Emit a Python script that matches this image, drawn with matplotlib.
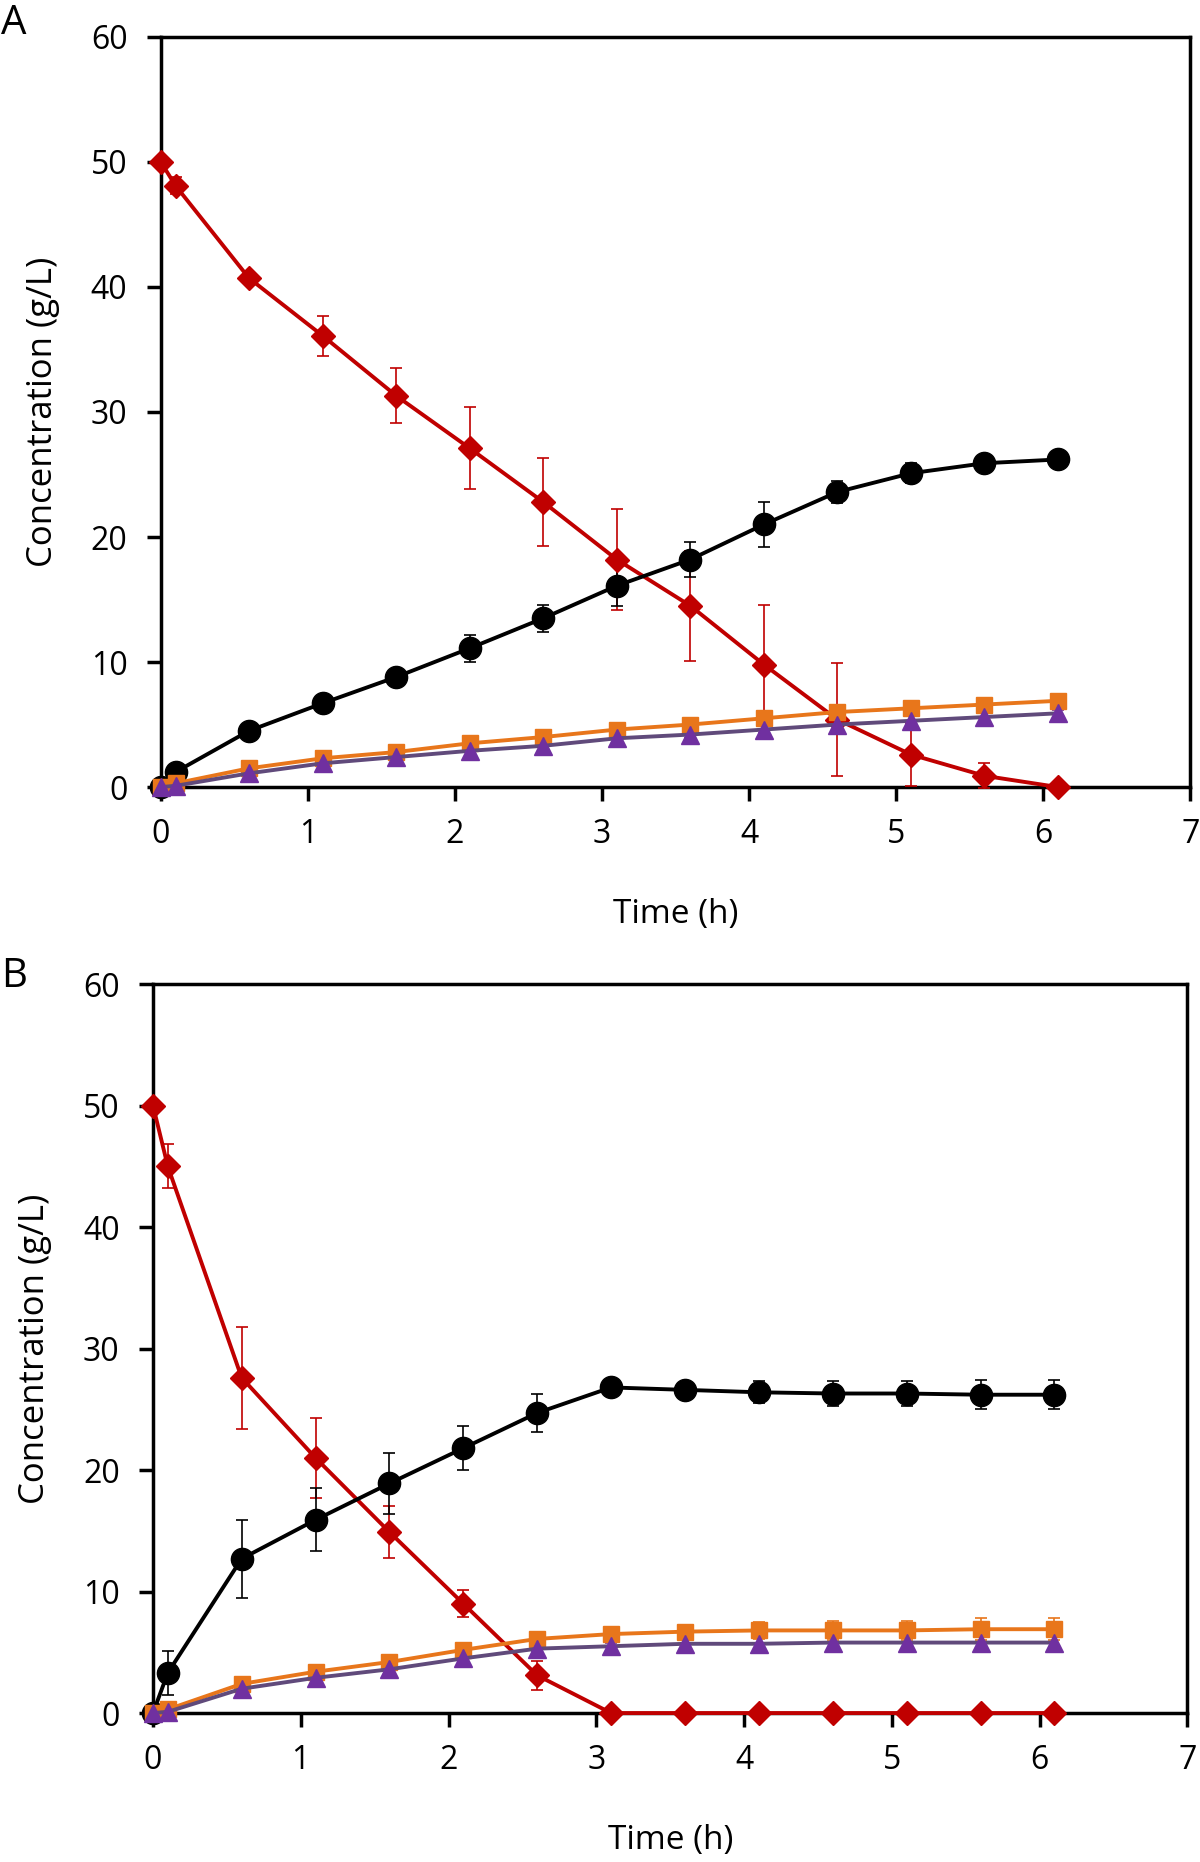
import matplotlib
matplotlib.use("Agg")
import matplotlib.pyplot as plt

plt.rcParams['font.family'] = ['Open Sans', 'DejaVu Sans']

# sampling times (h)
time_h = [0, 0.1, 0.6, 1.1, 1.6, 2.1, 2.6, 3.1, 3.6, 4.1, 4.6, 5.1, 5.6, 6.1]

# panel A
a_red = [50, 48.1, 40.7, 36.1, 31.3, 27.1, 22.8, 18.2, 14.5, 9.8, 5.4, 2.6, 0.9, 0]
a_red_err = [0, 0.7, 0.3, 1.6, 2.2, 3.3, 3.5, 4.0, 4.4, 4.8, 4.5, 2.5, 1.0, 0]
a_black = [0, 1.2, 4.5, 6.7, 8.8, 11.1, 13.5, 16.1, 18.2, 21.0, 23.6, 25.1, 25.9, 26.2]
a_black_err = [0, 0.2, 0.3, 0.4, 0.6, 1.1, 1.1, 1.6, 1.4, 1.8, 0.9, 0.8, 0.3, 0.6]
a_orange = [0, 0.3, 1.5, 2.3, 2.8, 3.5, 4.0, 4.6, 5.0, 5.5, 6.0, 6.3, 6.6, 6.9]
a_orange_err = [0, 0.1, 0.2, 0.2, 0.2, 0.3, 0.3, 0.3, 0.4, 0.4, 0.4, 0.4, 0.3, 0.3]
a_purple = [0, 0.1, 1.1, 1.9, 2.4, 2.9, 3.3, 3.9, 4.2, 4.6, 5.0, 5.3, 5.6, 5.9]
a_purple_err = [0, 0.1, 0.2, 0.2, 0.2, 0.3, 0.3, 0.3, 0.3, 0.3, 0.4, 0.4, 0.3, 0.3]

# panel B
b_red = [50, 45.0, 27.6, 21.0, 14.9, 9.0, 3.1, 0, 0, 0, 0, 0, 0, 0]
b_red_err = [0, 1.8, 4.2, 3.3, 2.1, 1.1, 1.2, 0, 0, 0, 0, 0, 0, 0]
b_black = [0, 3.3, 12.7, 15.9, 18.9, 21.8, 24.7, 26.8, 26.6, 26.4, 26.3, 26.3, 26.2, 26.2]
b_black_err = [0, 1.8, 3.2, 2.6, 2.5, 1.8, 1.6, 0.2, 0.6, 0.9, 1.0, 1.0, 1.2, 1.2]
b_orange = [0, 0.3, 2.4, 3.4, 4.2, 5.2, 6.1, 6.5, 6.7, 6.8, 6.8, 6.8, 6.9, 6.9]
b_orange_err = [0, 0.2, 0.3, 0.3, 0.4, 0.4, 0.4, 0.4, 0.5, 0.7, 0.8, 0.8, 0.9, 0.9]
b_purple = [0, 0.1, 2.0, 2.9, 3.6, 4.5, 5.3, 5.5, 5.7, 5.7, 5.8, 5.8, 5.8, 5.8]
b_purple_err = [0, 0.1, 0.2, 0.2, 0.3, 0.3, 0.3, 0.3, 0.4, 0.5, 0.6, 0.6, 0.6, 0.6]

RED = '#c00000'
ORANGE = '#e8761b'
PURPLE = '#7030a0'
PURPLE_LINE = '#604a7b'


def draw_series(ax, y, err, color, marker, ms, line_color=None):
    lc = line_color if line_color else color
    ax.errorbar(time_h, y, yerr=err, color=lc, ecolor=color, elinewidth=1.2,
                capsize=4, capthick=1.2, linewidth=2.8, marker=marker,
                markersize=ms, markerfacecolor=color, markeredgecolor=color,
                clip_on=False, zorder=3)


def style_axes(ax):
    ax.set_xlim(0, 7)
    ax.set_ylim(0, 60)
    ax.set_xticks(range(0, 8))
    ax.set_yticks(range(0, 61, 10))
    for s in ax.spines.values():
        s.set_linewidth(2.5)
    ax.tick_params(direction='out', length=10, width=2.5, labelsize=23, pad=12)
    ax.tick_params(axis='y', pad=14)
    ax.set_xlabel('Time (h)', fontsize=24, labelpad=34)
    ax.set_ylabel('Concentration (g/L)', fontsize=25, labelpad=22)


fig = plt.figure(figsize=(12, 18.62), dpi=100)
axA = fig.add_axes([0.134, 0.5773, 0.858, 0.4029])
axB = fig.add_axes([0.1275, 0.080, 0.862, 0.3915])

draw_series(axA, a_red, a_red_err, RED, 'D', 12.5)
draw_series(axA, a_black, a_black_err, 'black', 'o', 16)
draw_series(axA, a_orange, a_orange_err, ORANGE, 's', 11.5)
draw_series(axA, a_purple, a_purple_err, PURPLE, '^', 13.5, PURPLE_LINE)
style_axes(axA)

draw_series(axB, b_red, b_red_err, RED, 'D', 12.5)
draw_series(axB, b_black, b_black_err, 'black', 'o', 16)
draw_series(axB, b_orange, b_orange_err, ORANGE, 's', 11.5)
draw_series(axB, b_purple, b_purple_err, PURPLE, '^', 13.5, PURPLE_LINE)
style_axes(axB)

fig.text(14 / 1200, 1 - 24 / 1862, 'A', fontsize=29, ha='center', va='center')
fig.text(14 / 1200, 1 - 977 / 1862, 'B', fontsize=29, ha='center', va='center')

plt.savefig('out.png', dpi=100)
